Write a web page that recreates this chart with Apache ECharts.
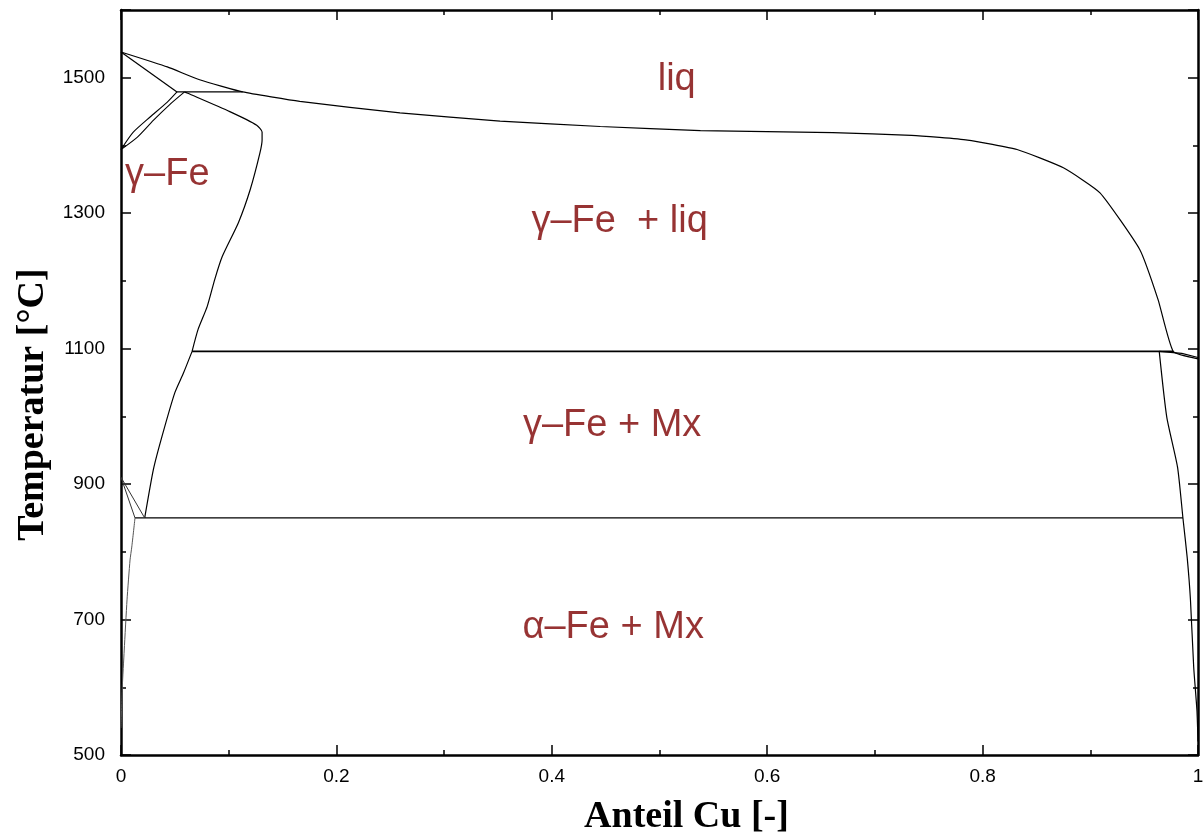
<!DOCTYPE html>
<html>
<head>
<meta charset="utf-8">
<script src="https://cdn.jsdelivr.net/npm/echarts@6/dist/echarts.min.js"></script>
<style>html,body{margin:0;padding:0;background:#fff}#c{width:1204px;height:834px}</style>
</head>
<body>
<div id="c"></div>
<script>
// ---- data (x = Anteil Cu, y = Temperatur in °C) ----
const liquidus = [[0,1538],[0.043,1516],[0.073,1497],[0.113,1479],[0.166,1465],[0.259,1448],[0.352,1436],[0.445,1428],[0.538,1422],[0.661,1419],[0.734,1415],[0.786,1408],[0.832,1394],[0.875,1367],[0.909,1330],[0.946,1246],[0.963,1172],[0.977,1096],[1.0,1085]];
const deltaSolidus = [[0,1538],[0.052,1479]];
const peritecticDelta = [[0.052,1479],[0.113,1479]];
const deltaGammaA = [[0,1394],[0.011,1419],[0.027,1442],[0.043,1464],[0.052,1479]];
const deltaGammaB = [[0,1394],[0.015,1412],[0.030,1437],[0.045,1460],[0.059,1479]];
const gammaSolidus = [[0.059,1479],[0.062,1477],[0.101,1450],[0.126,1430],[0.131,1420],[0.131,1408],[0.129,1389],[0.120,1335],[0.109,1286],[0.094,1236],[0.087,1202],[0.080,1162],[0.0715,1128],[0.066,1096]];
const peritecticCu = [[0.066,1096],[0.977,1096]];
const gammaSolvus = [[0.066,1096],[0.058,1064],[0.050,1035],[0.038,970],[0.030,921],[0.022,850]];
const eutectoid = [[0.013,850],[0.986,850]];
const alphaGammaA = [[0,910],[0.013,850]];
const alphaGammaB = [[0,910],[0.022,850]];
const alphaSolvus = [[0.013,850],[0.010,807],[0.0084,788],[0.0056,729],[0.003,655],[0.0012,600],[0,540]];
const epsSolidusTop = [[0.964,1096],[0.985,1093],[1.0,1087]];
const epsSolvus = [[0.964,1096],[0.971,999],[0.981,925],[0.986,850],[0.990,791],[0.993,729],[0.996,630],[0.999,566],[1.0,520]];
const regionLabels = ['liq','γ–Fe','γ–Fe  + liq','γ–Fe + Mx','α–Fe + Mx'];
const labelPos = [[0.516,1497],[0.043,1357],[0.463,1287],[0.456,987],[0.457,688]];
const yTickLabels = [500,700,900,1100,1300,1500];
const xTickLabels = ['0','0.2','0.4','0.6','0.8','1'];

const curves = [
  [liquidus,'#000',1.2,0.15],[deltaSolidus,'#000',1.2,0],[peritecticDelta,'#000',1.2,0],
  [deltaGammaA,'#000',1.1,0.2],[deltaGammaB,'#000',1.1,0.2],[gammaSolidus,'#000',1.2,0.2],
  [peritecticCu,'#000',1.6,0],[gammaSolvus,'#000',1.2,0.2],[eutectoid,'#000',1.2,0],
  [alphaGammaA,'#333',1,0],[alphaGammaB,'#333',1,0],[alphaSolvus,'#555',1,0.2],
  [epsSolidusTop,'#000',1.1,0],[epsSolvus,'#000',1.2,0.2]
];

const series = curves.map(c => ({
  type:'line', data:c[0], showSymbol:false, symbol:'none', silent:true, animation:false,
  smooth:c[3], lineStyle:{color:c[1], width:c[2]}, z:3
}));
series.push({
  type:'scatter', silent:true, animation:false, symbolSize:1, itemStyle:{color:'rgba(0,0,0,0)'},
  data: regionLabels.map((t,i)=>({value:labelPos[i], name:t})),
  label:{show:true, position:'inside', formatter:p=>p.name, color:'#7d0000',
    fontFamily:'Liberation Sans, Arial, sans-serif', fontSize:38}
});

const axLine = {show:true, onZero:false, lineStyle:{color:'#000', width:2.5}};
const tickStyle = {color:'#000', width:1.5};
const xCommon = {type:'value', min:0, max:1, interval:0.2, splitLine:{show:false},
  axisLine:axLine,
  axisTick:{show:true, inside:true, length:10, lineStyle:tickStyle},
  minorTick:{show:true, splitNumber:2, length:5, lineStyle:tickStyle}};
const yCommon = {type:'value', min:500, max:1600, interval:200, splitLine:{show:false},
  axisLine:axLine,
  axisTick:{show:true, inside:true, length:10, lineStyle:tickStyle},
  minorTick:{show:true, splitNumber:2, length:5, lineStyle:tickStyle}};
const titleStyle = {fontFamily:'Liberation Serif, Times New Roman, serif', fontWeight:'bold', fontSize:38, color:'#000'};
const tickFont = {fontSize:19, color:'#000', fontFamily:'Liberation Sans, Arial, sans-serif'};

const option = {
  backgroundColor:'#fff', animation:false,
  grid:{left:121, right:6, top:10, bottom:79, containLabel:false, outerBoundsMode:'none'},
  xAxis:[
    Object.assign({}, xCommon, {position:'bottom',
      name:'Anteil Cu [-]', nameLocation:'middle', nameGap:43,
      nameTextStyle:Object.assign({padding:[0,0,0,54]}, titleStyle),
      axisLabel:Object.assign({show:true, margin:12,
        formatter:v=>{const i=Math.round(v*5); return Math.abs(v*5-i)<1e-6 ? xTickLabels[i] : '';}}, tickFont)}),
    Object.assign({}, xCommon, {position:'top', axisLabel:{show:false}})
  ],
  yAxis:[
    Object.assign({}, yCommon, {position:'left',
      name:'Temperatur [°C]', nameLocation:'middle', nameGap:66,
      nameTextStyle:Object.assign({padding:[0,44,0,0]}, titleStyle),
      axisLabel:Object.assign({show:true, margin:16,
        formatter:v=> yTickLabels.indexOf(v)>=0 ? String(v) : ''}, tickFont)}),
    Object.assign({}, yCommon, {position:'right', axisLabel:{show:false}})
  ],
  series: series
};
echarts.init(document.getElementById('c'), null, {renderer:'canvas'}).setOption(option);
</script>
</body>
</html>
